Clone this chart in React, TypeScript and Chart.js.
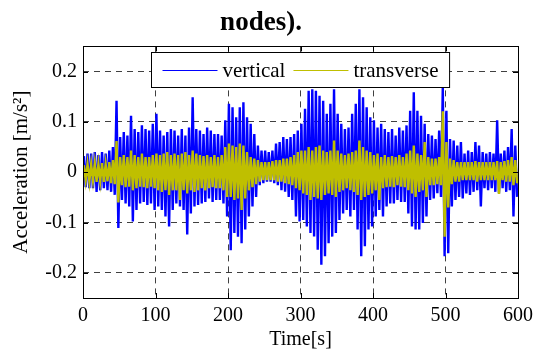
import React, { useEffect, useRef } from "react";
import { Chart, registerables } from "chart.js";

Chart.register(...registerables);

// Each series is summarised as its max / min over consecutive 5 s windows.
const BIN_SECONDS = 5;

const verticalMax = [
  0.032, 0.037, 0.037, 0.040, 0.034, 0.040, 0.037, 0.043, 0.050, 0.142, 0.070, 0.080, 0.073, 0.112, 0.086, 0.080, 0.093, 0.086, 0.083, 0.096,
  0.116, 0.083, 0.073, 0.080, 0.086, 0.083, 0.073, 0.086, 0.073, 0.089, 0.149, 0.086, 0.083, 0.076, 0.089, 0.083, 0.076, 0.076, 0.073, 0.103,
  0.136, 0.129, 0.109, 0.129, 0.139, 0.109, 0.096, 0.076, 0.053, 0.043, 0.043, 0.040, 0.043, 0.057, 0.060, 0.070, 0.066, 0.070, 0.076, 0.083,
  0.096, 0.126, 0.162, 0.165, 0.162, 0.152, 0.142, 0.116, 0.136, 0.165, 0.116, 0.096, 0.086, 0.089, 0.116, 0.136, 0.165, 0.149, 0.129, 0.109,
  0.103, 0.089, 0.096, 0.086, 0.080, 0.086, 0.073, 0.089, 0.083, 0.093, 0.122, 0.159, 0.122, 0.112, 0.096, 0.076, 0.073, 0.066, 0.083, 0.168,
  0.122, 0.066, 0.063, 0.053, 0.060, 0.037, 0.043, 0.040, 0.060, 0.053, 0.040, 0.037, 0.040, 0.037, 0.103, 0.037, 0.043, 0.050, 0.086, 0.053,
];

const verticalMin = [
  -0.030, -0.032, -0.032, -0.039, -0.036, -0.032, -0.036, -0.039, -0.045, -0.111, -0.055, -0.062, -0.068, -0.098, -0.075, -0.062, -0.059, -0.065, -0.062, -0.075,
  -0.068, -0.075, -0.088, -0.108, -0.075, -0.062, -0.068, -0.075, -0.124, -0.082, -0.068, -0.065, -0.062, -0.059, -0.052, -0.059, -0.055, -0.055, -0.062, -0.088,
  -0.155, -0.121, -0.128, -0.141, -0.114, -0.088, -0.068, -0.049, -0.026, -0.022, -0.019, -0.019, -0.022, -0.026, -0.036, -0.039, -0.049, -0.055, -0.088, -0.098,
  -0.095, -0.108, -0.121, -0.128, -0.154, -0.184, -0.167, -0.141, -0.128, -0.121, -0.095, -0.082, -0.075, -0.088, -0.075, -0.114, -0.167, -0.147, -0.114, -0.108,
  -0.088, -0.075, -0.088, -0.068, -0.062, -0.062, -0.055, -0.059, -0.059, -0.082, -0.108, -0.114, -0.114, -0.101, -0.088, -0.055, -0.052, -0.042, -0.049, -0.167,
  -0.161, -0.068, -0.055, -0.049, -0.052, -0.042, -0.045, -0.039, -0.036, -0.068, -0.032, -0.036, -0.032, -0.039, -0.042, -0.032, -0.039, -0.036, -0.088, -0.049,
];

const transverseMax = [
  0.014, 0.016, 0.016, 0.018, 0.016, 0.018, 0.016, 0.020, 0.024, 0.062, 0.030, 0.034, 0.030, 0.043, 0.034, 0.030, 0.037, 0.030, 0.030, 0.034,
  0.037, 0.034, 0.037, 0.040, 0.034, 0.037, 0.034, 0.037, 0.040, 0.034, 0.043, 0.037, 0.034, 0.032, 0.034, 0.030, 0.034, 0.030, 0.034, 0.050,
  0.057, 0.053, 0.050, 0.057, 0.053, 0.040, 0.030, 0.027, 0.024, 0.020, 0.020, 0.020, 0.022, 0.024, 0.024, 0.027, 0.027, 0.030, 0.034, 0.040,
  0.043, 0.043, 0.050, 0.043, 0.050, 0.053, 0.043, 0.040, 0.043, 0.063, 0.043, 0.037, 0.034, 0.037, 0.040, 0.043, 0.063, 0.050, 0.043, 0.040,
  0.034, 0.037, 0.030, 0.034, 0.030, 0.032, 0.030, 0.034, 0.030, 0.037, 0.043, 0.053, 0.037, 0.034, 0.060, 0.030, 0.027, 0.027, 0.030, 0.121,
  0.060, 0.027, 0.024, 0.020, 0.020, 0.020, 0.020, 0.020, 0.022, 0.020, 0.020, 0.020, 0.020, 0.020, 0.022, 0.020, 0.022, 0.024, 0.030, 0.024,
];

const transverseMin = [
  -0.016, -0.018, -0.016, -0.019, -0.018, -0.019, -0.018, -0.022, -0.024, -0.060, -0.026, -0.030, -0.029, -0.036, -0.032, -0.029, -0.030, -0.032, -0.029, -0.032,
  -0.036, -0.039, -0.036, -0.045, -0.036, -0.036, -0.055, -0.036, -0.042, -0.036, -0.039, -0.036, -0.032, -0.036, -0.032, -0.030, -0.032, -0.032, -0.036, -0.049,
  -0.049, -0.055, -0.052, -0.075, -0.052, -0.036, -0.030, -0.024, -0.019, -0.016, -0.016, -0.016, -0.016, -0.019, -0.019, -0.022, -0.024, -0.026, -0.032, -0.036,
  -0.042, -0.045, -0.055, -0.049, -0.052, -0.055, -0.045, -0.042, -0.045, -0.049, -0.039, -0.036, -0.032, -0.036, -0.039, -0.045, -0.055, -0.049, -0.045, -0.042,
  -0.036, -0.055, -0.032, -0.030, -0.029, -0.030, -0.026, -0.029, -0.030, -0.036, -0.042, -0.049, -0.039, -0.036, -0.049, -0.026, -0.026, -0.024, -0.026, -0.128,
  -0.070, -0.024, -0.019, -0.019, -0.016, -0.016, -0.016, -0.016, -0.019, -0.016, -0.016, -0.016, -0.016, -0.016, -0.043, -0.016, -0.019, -0.019, -0.026, -0.022,
];

const xTicks = [0, 100, 200, 300, 400, 500, 600];
const yTicks = [-0.2, -0.1, 0, 0.1, 0.2];

const TITLE = "nodes).";
const X_TITLE = "Time[s]";
const Y_TITLE = "Acceleration [m/s\u00B2]";
const SERIES_LABELS = ["vertical", "transverse"];
const SERIES_COLORS = ["#0000ff", "#bfbf00"];

const FONT = "'Liberation Serif', 'Times New Roman', serif";

function envelopeTrace(maxArr: number[], minArr: number[]) {
  const pts: { x: number; y: number }[] = [];
  maxArr.forEach((hi, i) => {
    const t0 = i * BIN_SECONDS;
    pts.push({ x: t0 + BIN_SECONDS * 0.25, y: hi });
    pts.push({ x: t0 + BIN_SECONDS * 0.75, y: minArr[i] });
  });
  return pts;
}

const boxPlugin = {
  id: "matlabBox",
  afterDatasetsDraw(chart: any) {
    const { ctx, chartArea: a, scales } = chart;
    ctx.save();
    ctx.strokeStyle = "#000";
    ctx.lineWidth = 1;
    ctx.setLineDash([]);
    ctx.beginPath();
    const tl = 5;
    xTicks.forEach((v) => {
      const px = Math.round(scales.x.getPixelForValue(v)) + 0.5;
      ctx.moveTo(px, a.bottom);
      ctx.lineTo(px, a.bottom - tl);
      ctx.moveTo(px, a.top);
      ctx.lineTo(px, a.top + tl);
    });
    yTicks.forEach((v) => {
      const py = Math.round(scales.y.getPixelForValue(v)) + 0.5;
      ctx.moveTo(a.left, py);
      ctx.lineTo(a.left + tl, py);
      ctx.moveTo(a.right, py);
      ctx.lineTo(a.right - tl, py);
    });
    ctx.stroke();
    ctx.strokeRect(Math.round(a.left) + 0.5, Math.round(a.top) + 0.5, Math.round(a.right - a.left), Math.round(a.bottom - a.top));
    ctx.restore();
  },
  afterDraw(chart: any) {
    const { ctx, chartArea: a } = chart;
    ctx.save();
    ctx.font = `21px ${FONT}`;
    const pad = 11;
    const lineLen = 55;
    const gap = 5;
    const between = 8;
    const widths = SERIES_LABELS.map((t) => ctx.measureText(t).width);
    const total = pad * 2 + widths.reduce((s, w) => s + lineLen + gap + w, 0) + between;
    const h = 35;
    const left = Math.round((a.left + a.right) / 2 - total / 2) + 0.5;
    const top = Math.round(a.top + 6) + 0.5;
    ctx.fillStyle = "#fff";
    ctx.fillRect(left, top, total, h);
    ctx.strokeStyle = "#000";
    ctx.lineWidth = 1;
    ctx.strokeRect(left, top, total, h);
    let x = left + pad;
    const cy = top + h / 2;
    SERIES_LABELS.forEach((label, i) => {
      ctx.strokeStyle = SERIES_COLORS[i];
      ctx.beginPath();
      ctx.moveTo(x, Math.round(cy) + 0.5);
      ctx.lineTo(x + lineLen, Math.round(cy) + 0.5);
      ctx.stroke();
      x += lineLen + gap;
      ctx.fillStyle = "#000";
      ctx.textBaseline = "middle";
      ctx.textAlign = "left";
      ctx.fillText(label, x, cy + 1);
      x += widths[i] + between;
    });
    ctx.restore();
  },
};

export default function App() {
  const ref = useRef<HTMLCanvasElement | null>(null);

  useEffect(() => {
    if (!ref.current) return;
    const chart = new Chart(ref.current, {
      type: "line",
      data: {
        datasets: [
          {
            label: SERIES_LABELS[0],
            data: envelopeTrace(verticalMax, verticalMin),
            borderColor: SERIES_COLORS[0],
            borderWidth: 2.4,
            pointRadius: 0,
            tension: 0,
            order: 1,
          },
          {
            label: SERIES_LABELS[1],
            data: envelopeTrace(transverseMax, transverseMin),
            borderColor: SERIES_COLORS[1],
            borderWidth: 2.4,
            pointRadius: 0,
            tension: 0,
            order: 0,
          },
        ],
      },
      options: {
        animation: false,
        responsive: false,
        parsing: false,
        normalized: true,
        layout: { padding: { left: 0, right: 17, top: 0, bottom: 0 } },
        plugins: {
          legend: { display: false },
          tooltip: { enabled: false },
          title: {
            display: true,
            text: TITLE,
            color: "#000",
            font: { family: FONT, size: 27, weight: "bold" },
            padding: { top: 7, bottom: 7 },
          },
        },
        scales: {
          x: {
            type: "linear",
            min: 0,
            max: 600,
            afterBuildTicks: (s: any) => {
              s.ticks = xTicks.map((v) => ({ value: v }));
            },
            afterFit: (s: any) => {
              s.height = 58;
            },
            ticks: {
              color: "#000",
              font: { family: FONT, size: 20 },
              padding: 6,
              maxRotation: 0,
            },
            grid: { color: "rgba(0,0,0,0.75)", drawTicks: false, lineWidth: 1 },
            border: { display: false, dash: [6, 5] },
            title: {
              display: true,
              text: X_TITLE,
              color: "#000",
              font: { family: FONT, size: 20 },
              padding: { top: 0, bottom: 4 },
            },
          },
          y: {
            type: "linear",
            min: -0.25,
            max: 0.25,
            afterBuildTicks: (s: any) => {
              s.ticks = yTicks.map((v) => ({ value: v }));
            },
            afterFit: (s: any) => {
              s.width = 83;
            },
            ticks: {
              color: "#000",
              font: { family: FONT, size: 20 },
              padding: 6,
              callback: (v: any) => String(Number(Number(v).toFixed(2))),
            },
            grid: { color: "rgba(0,0,0,0.75)", drawTicks: false, lineWidth: 1 },
            border: { display: false, dash: [6, 5] },
            title: {
              display: true,
              text: Y_TITLE,
              color: "#000",
              font: { family: FONT, size: 21 },
              padding: { top: 9, bottom: 0 },
            },
          },
        },
      },
      plugins: [boxPlugin],
    });
    return () => chart.destroy();
  }, []);

  return (
    <canvas
      ref={ref}
      width={539}
      height={356}
      style={{ position: "absolute", left: 0, top: 0, width: 539, height: 356, background: "#fff" }}
    />
  );
}
